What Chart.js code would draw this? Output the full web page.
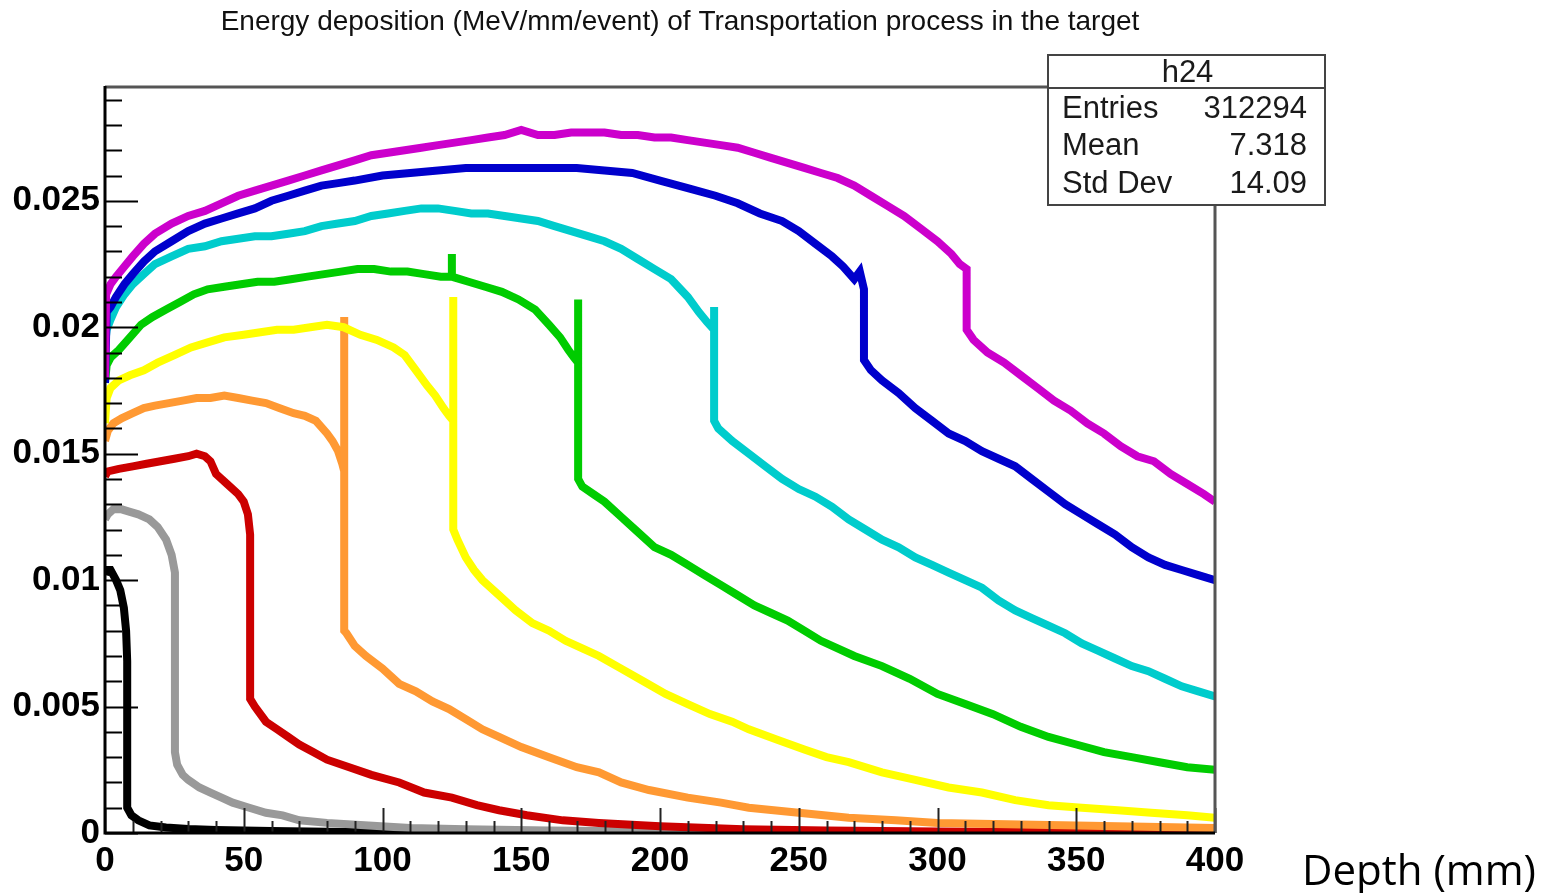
<!DOCTYPE html>
<html>
<head>
<meta charset="utf-8">
<title>Transportation energy deposition</title>
<script src="https://cdn.jsdelivr.net/npm/chart.js@4.4.1/dist/chart.umd.min.js"></script>
<style>
  html, body { margin: 0; padding: 0; background: #fff; }
  canvas { display: block; }
</style>
</head>
<body>
<canvas id="depthChart" width="1552" height="893"></canvas>
<script>
'use strict';

// axis ticks
var xTickValues = [0, 50, 100, 150, 200, 250, 300, 350, 400];
var xTickLabels = ['0', '50', '100', '150', '200', '250', '300', '350', '400'];
var yTickValues = [0, 0.005, 0.01, 0.015, 0.02, 0.025];
var yTickLabels = ['0', '0.005', '0.01', '0.015', '0.02', '0.025'];

// stats box of h24
var statNames = ['Entries', 'Mean', 'Std Dev'];
var statValues = ['312294', '7.318', '14.09'];

// energy deposition per depth, [depth mm, MeV/mm/event], one list per beam energy
var black = [[0, 0.0102], [0.5, 0.0104], [2, 0.0104], [4, 0.0100], [5.5, 0.0096], [6.8, 0.0089],
  [7.6, 0.0080], [8, 0.0068], [8, 0.0010], [9.5, 0.0007], [12, 0.0005], [16, 0.0003], [22, 0.00022],
  [30, 0.00016], [40, 0.00012], [60, 0.00008], [80, 0.00005], [100, 0.00004], [130, 0.00002],
  [180, 0.00001], [250, 0], [400, 0]];

var gray = [[0, 0.0124], [1, 0.0126], [3, 0.0128], [6, 0.0128], [9, 0.0127], [12, 0.0126],
  [16, 0.0124], [19, 0.0121], [22, 0.0116], [24, 0.0110], [25.2, 0.0103], [25.2, 0.0032],
  [26, 0.0027], [28, 0.0023], [30, 0.0021], [34, 0.0018], [38, 0.0016], [42, 0.0014], [46, 0.0012],
  [52, 0.0010], [58, 0.0008], [64, 0.0007], [70, 0.0005], [80, 0.0004], [95, 0.0003], [110, 0.0002],
  [130, 0.00015], [160, 0.0001], [200, 0.00006], [250, 0.00003], [300, 0.00002], [400, 0.00001]];

var red = [[0, 0.0141], [1, 0.0143], [5, 0.0144], [10, 0.0145], [15, 0.0146], [20, 0.0147],
  [25, 0.0148], [30, 0.0149], [33, 0.0150], [36, 0.0149], [38, 0.0147], [40, 0.0142], [44, 0.0138],
  [48, 0.0134], [50, 0.0131], [51.5, 0.0126], [52.3, 0.0118], [52.3, 0.0053], [54, 0.0050],
  [56, 0.0047], [58, 0.0044], [62, 0.0041], [66, 0.0038], [70, 0.0035], [75, 0.0032], [80, 0.0029],
  [88, 0.0026], [96, 0.0023], [106, 0.0020], [115, 0.0016], [125, 0.0014], [134, 0.0011],
  [142, 0.0009], [152, 0.0007], [165, 0.0005], [178, 0.0004], [200, 0.00027], [230, 0.00015],
  [260, 0.0001], [300, 0.00006], [350, 0.00003], [400, 0.00002]];

var orange = [[0, 0.0155], [1, 0.0159], [3, 0.0162], [6, 0.0164], [10, 0.0166], [14, 0.0168],
  [18, 0.0169], [23, 0.0170], [28, 0.0171], [33, 0.0172], [38, 0.0172], [43, 0.0173], [48, 0.0172],
  [53, 0.0171], [58, 0.0170], [63, 0.0168], [68, 0.0166], [72, 0.0165], [76, 0.0163], [80, 0.0158],
  [82, 0.0155], [84, 0.0151], [85.5, 0.0146], [86.2, 0.0143], [86.2, 0.0204], [86.2, 0.0080],
  [87, 0.0079], [90, 0.0074], [94, 0.0070], [100, 0.0065], [106, 0.0059], [112, 0.0056],
  [118, 0.0052], [124, 0.0049], [130, 0.0045], [136, 0.0041], [142, 0.0038], [150, 0.0034],
  [160, 0.0030], [170, 0.0026], [178, 0.0024], [186, 0.0020], [196, 0.0017], [210, 0.0014],
  [222, 0.0012], [232, 0.0010], [250, 0.0008], [268, 0.0006], [285, 0.0005], [300, 0.0004],
  [350, 0.0003], [400, 0.0002]];

var yellow = [[0, 0.0162], [0.6, 0.0172], [2, 0.0176], [5, 0.0179], [9, 0.0181], [14, 0.0183],
  [19, 0.0186], [25, 0.0189], [31, 0.0192], [37, 0.0194], [43, 0.0196], [50, 0.0197], [56, 0.0198],
  [62, 0.0199], [68, 0.0199], [74, 0.0200], [80, 0.0201], [86, 0.0200], [92, 0.0197], [98, 0.0195],
  [104, 0.0192], [108, 0.0189], [112, 0.0183], [116, 0.0177], [119, 0.0173], [122, 0.0168],
  [124, 0.0165], [125.5, 0.0163], [125.5, 0.0212], [125.5, 0.0120], [127, 0.0116], [130, 0.0109],
  [133, 0.0104], [136, 0.0100], [142, 0.0094], [148, 0.0088], [154, 0.0083], [160, 0.0080],
  [166, 0.0076], [172, 0.0073], [178, 0.0070], [186, 0.0065], [194, 0.0060], [202, 0.0055],
  [210, 0.0051], [218, 0.0047], [226, 0.0044], [232, 0.0041], [242, 0.0037], [252, 0.0033],
  [260, 0.0030], [268, 0.0028], [280, 0.0024], [292, 0.0021], [304, 0.0018], [316, 0.0016],
  [328, 0.0013], [340, 0.0011], [352, 0.0010], [365, 0.0009], [377, 0.0008], [390, 0.0007],
  [400, 0.0006]];

var green = [[0, 0.0178], [0.6, 0.0185], [2, 0.0188], [5, 0.0191], [9, 0.0196], [13, 0.0201],
  [17, 0.0204], [22, 0.0207], [27, 0.0210], [32, 0.0213], [37, 0.0215], [43, 0.0216], [49, 0.0217],
  [55, 0.0218], [61, 0.0218], [67, 0.0219], [73, 0.0220], [79, 0.0221], [85, 0.0222], [91, 0.0223],
  [97, 0.0223], [103, 0.0222], [109, 0.0222], [115, 0.0221], [121, 0.0220], [125, 0.0220],
  [125, 0.0229], [125, 0.0220], [131, 0.0218], [137, 0.0216], [143, 0.0214], [149, 0.0211],
  [155, 0.0207], [160, 0.0201], [164, 0.0196], [167, 0.0191], [169, 0.0188], [170.5, 0.0186],
  [170.5, 0.0211], [170.5, 0.0140], [172, 0.0137], [176, 0.0134], [180, 0.0131], [186, 0.0125],
  [192, 0.0119], [198, 0.0113], [204, 0.0110], [210, 0.0106], [216, 0.0102], [222, 0.0098],
  [228, 0.0094], [234, 0.0090], [240, 0.0087], [246, 0.0084], [252, 0.0080], [258, 0.0076],
  [264, 0.0073], [270, 0.0070], [280, 0.0066], [290, 0.0061], [300, 0.0055], [310, 0.0051],
  [320, 0.0047], [330, 0.0042], [340, 0.0038], [350, 0.0035], [360, 0.0032], [370, 0.0030],
  [380, 0.0028], [390, 0.0026], [400, 0.0025]];

var cyan = [[0, 0.0193], [0.6, 0.0199], [2, 0.0203], [4, 0.0208], [7, 0.0213], [10, 0.0217],
  [14, 0.0221], [18, 0.0225], [24, 0.0228], [30, 0.0231], [36, 0.0232], [42, 0.0234], [48, 0.0235],
  [54, 0.0236], [60, 0.0236], [66, 0.0237], [72, 0.0238], [78, 0.0240], [84, 0.0241], [90, 0.0242],
  [96, 0.0244], [102, 0.0245], [108, 0.0246], [114, 0.0247], [120, 0.0247], [126, 0.0246],
  [132, 0.0245], [138, 0.0245], [144, 0.0244], [150, 0.0243], [156, 0.0242], [162, 0.0240],
  [168, 0.0238], [174, 0.0236], [180, 0.0234], [186, 0.0231], [192, 0.0227], [198, 0.0223],
  [204, 0.0219], [210, 0.0212], [214, 0.0206], [217, 0.0202], [219.5, 0.0199], [219.5, 0.0208],
  [219.5, 0.0163], [221, 0.0160], [226, 0.0155], [232, 0.0150], [238, 0.0145], [244, 0.0140],
  [250, 0.0136], [256, 0.0133], [262, 0.0129], [268, 0.0124], [274, 0.0120], [280, 0.0116],
  [286, 0.0113], [292, 0.0109], [298, 0.0106], [304, 0.0103], [310, 0.0100], [316, 0.0097],
  [322, 0.0092], [328, 0.0088], [334, 0.0085], [340, 0.0082], [346, 0.0079], [352, 0.0075],
  [358, 0.0072], [364, 0.0069], [370, 0.0066], [376, 0.0064], [382, 0.0061], [388, 0.0058],
  [394, 0.0056], [400, 0.0054]];

var blue = [[0, 0.0178], [0.6, 0.0206], [2, 0.0208], [4, 0.0212], [7, 0.0217], [10, 0.0221],
  [14, 0.0226], [18, 0.0230], [24, 0.0234], [30, 0.0238], [36, 0.0241], [42, 0.0243], [48, 0.0245],
  [54, 0.0247], [60, 0.0250], [66, 0.0252], [72, 0.0254], [78, 0.0256], [84, 0.0257], [90, 0.0258],
  [100, 0.0260], [110, 0.0261], [120, 0.0262], [130, 0.0263], [140, 0.0263], [150, 0.0263],
  [160, 0.0263], [170, 0.0263], [180, 0.0262], [190, 0.0261], [200, 0.0258], [210, 0.0255],
  [220, 0.0252], [228, 0.0249], [236, 0.0245], [244, 0.0242], [250, 0.0238], [256, 0.0233],
  [262, 0.0228], [266, 0.0224], [270, 0.0219], [272, 0.0222], [273.5, 0.0215], [273.5, 0.0187],
  [276, 0.0183], [280, 0.0179], [286, 0.0174], [292, 0.0168], [298, 0.0163], [304, 0.0158],
  [310, 0.0155], [316, 0.0151], [322, 0.0148], [328, 0.0145], [334, 0.0140], [340, 0.0135],
  [346, 0.0130], [352, 0.0126], [358, 0.0122], [364, 0.0118], [370, 0.0113], [376, 0.0109],
  [382, 0.0106], [388, 0.0104], [394, 0.0102], [400, 0.0100]];

var magenta = [[0, 0.0180], [0.4, 0.0213], [2, 0.0217], [4, 0.0220], [7, 0.0224], [10, 0.0228],
  [14, 0.0233], [18, 0.0237], [24, 0.0241], [30, 0.0244], [36, 0.0246], [42, 0.0249], [48, 0.0252],
  [54, 0.0254], [60, 0.0256], [66, 0.0258], [72, 0.0260], [78, 0.0262], [84, 0.0264], [90, 0.0266],
  [96, 0.0268], [102, 0.0269], [108, 0.0270], [114, 0.0271], [120, 0.0272], [126, 0.0273],
  [132, 0.0274], [138, 0.0275], [144, 0.0276], [150, 0.0278], [156, 0.0276], [162, 0.0276],
  [168, 0.0277], [174, 0.0277], [180, 0.0277], [186, 0.0276], [192, 0.0276], [198, 0.0275],
  [204, 0.0275], [210, 0.0274], [216, 0.0273], [222, 0.0272], [228, 0.0271], [234, 0.0269],
  [240, 0.0267], [246, 0.0265], [252, 0.0263], [258, 0.0261], [264, 0.0259], [270, 0.0256],
  [276, 0.0252], [282, 0.0248], [288, 0.0244], [294, 0.0239], [300, 0.0234], [305, 0.0229],
  [308, 0.0225], [310.5, 0.0223], [310.5, 0.0199], [313, 0.0195], [318, 0.0190], [324, 0.0186],
  [330, 0.0181], [336, 0.0176], [342, 0.0171], [348, 0.0167], [354, 0.0162], [360, 0.0158],
  [366, 0.0153], [372, 0.0149], [378, 0.0147], [384, 0.0142], [390, 0.0138], [396, 0.0134],
  [400, 0.0131]];

// first dataset is painted last, so the highest energy sits on top
var curves = [
  { data: magenta, color: '#cc00cc' },
  { data: blue, color: '#0000cc' },
  { data: cyan, color: '#00cccc' },
  { data: green, color: '#00cc00' },
  { data: yellow, color: '#ffff00' },
  { data: orange, color: '#ff9933' },
  { data: red, color: '#cc0000' },
  { data: gray, color: '#999999' },
  { data: black, color: '#000000' }
];

var titleText = 'Energy deposition (MeV/mm/event) of Transportation process in the target';
var labelFont = "'Liberation Sans', Arial, sans-serif";

// ROOT style: inward ticks, frame, stats box, title
var rootFrame = {
  id: 'rootFrame',
  afterDatasetsDraw: function(chart) {
    var ctx = chart.ctx;
    var a = chart.chartArea;
    var x = chart.scales.x;
    var y = chart.scales.y;
    ctx.save();
    ctx.lineCap = 'butt';

    ctx.strokeStyle = '#000';
    ctx.lineWidth = 2;
    for (var i = 0; i <= 29; i++) {
      var py = Math.round(y.getPixelForValue(i / 1000)) + 0.5;
      var len = i % 5 === 0 ? 33 : 17;
      ctx.beginPath();
      ctx.moveTo(a.left, py);
      ctx.lineTo(a.left + len, py);
      ctx.stroke();
    }
    ctx.strokeStyle = '#222';
    for (var j = 0; j <= 40; j++) {
      var px = Math.round(x.getPixelForValue(j * 10)) + 0.5;
      var tl = j % 5 === 0 ? 25 : 12;
      ctx.beginPath();
      ctx.moveTo(px, a.bottom);
      ctx.lineTo(px, a.bottom - tl);
      ctx.stroke();
    }

    // top and right frame
    ctx.strokeStyle = '#555';
    ctx.lineWidth = 3;
    ctx.beginPath();
    ctx.moveTo(a.left, a.top);
    ctx.lineTo(a.right, a.top);
    ctx.lineTo(a.right, a.bottom);
    ctx.stroke();

    // axis lines
    ctx.strokeStyle = '#000';
    ctx.beginPath();
    ctx.moveTo(a.left, a.top - 1);
    ctx.lineTo(a.left, a.bottom);
    ctx.lineTo(a.right, a.bottom);
    ctx.stroke();
    ctx.restore();
  },
  afterDraw: function(chart) {
    var ctx = chart.ctx;
    ctx.save();

    ctx.fillStyle = '#111';
    ctx.font = '28px ' + labelFont;
    ctx.textAlign = 'center';
    ctx.textBaseline = 'middle';
    ctx.fillText(titleText, 680, 22, 930);

    // stats box
    var bx = 1048, by = 55, bw = 277, bh = 150, head = 33;
    ctx.fillStyle = '#fff';
    ctx.fillRect(bx, by, bw, bh);
    ctx.strokeStyle = '#444';
    ctx.lineWidth = 2;
    ctx.strokeRect(bx, by, bw, bh);
    ctx.beginPath();
    ctx.moveTo(bx, by + head);
    ctx.lineTo(bx + bw, by + head);
    ctx.stroke();

    ctx.fillStyle = '#1a1a1a';
    ctx.font = '31px ' + labelFont;
    ctx.textBaseline = 'middle';
    ctx.textAlign = 'center';
    ctx.fillText('h24', bx + bw / 2 + 1, by + 18);
    for (var k = 0; k < statNames.length; k++) {
      var ty = by + head + 21 + k * 37.5;
      ctx.textAlign = 'left';
      ctx.fillText(statNames[k], bx + 14, ty);
      ctx.textAlign = 'right';
      ctx.fillText(statValues[k], bx + bw - 18, ty);
    }

    // axis name next to the end of the depth axis
    ctx.fillStyle = '#000';
    ctx.font = "42px 'Open Sans', 'Noto Sans', sans-serif";
    ctx.textAlign = 'left';
    ctx.textBaseline = 'alphabetic';
    ctx.fillText('Depth (mm)', 1302, 885);
    ctx.restore();
  }
};

var chart = new Chart(document.getElementById('depthChart'), {
  type: 'line',
  data: {
    datasets: curves.map(function(c) {
      return {
        data: c.data,
        borderColor: c.color,
        backgroundColor: c.color,
        borderWidth: 8,
        pointRadius: 0,
        tension: 0,
        fill: false
      };
    })
  },
  options: {
    responsive: false,
    animation: false,
    layout: { padding: { top: 87, right: 337, left: 0, bottom: 0 } },
    plugins: {
      legend: { display: false },
      title: { display: false },
      tooltip: { enabled: false }
    },
    scales: {
      x: {
        type: 'linear',
        min: 0,
        max: 400,
        afterFit: function(s) { s.height = 60; },
        afterBuildTicks: function(s) {
          s.ticks = xTickValues.map(function(v) { return { value: v }; });
        },
        grid: { display: false, drawTicks: false },
        border: { display: false },
        ticks: {
          autoSkip: false,
          maxRotation: 0,
          padding: 7,
          color: '#000',
          font: { family: labelFont, size: 35, weight: 'bold' },
          callback: function(v, i) { return xTickLabels[i]; }
        }
      },
      y: {
        type: 'linear',
        min: 0,
        max: 0.0295,
        afterFit: function(s) { s.width = 105; },
        afterBuildTicks: function(s) {
          s.ticks = yTickValues.map(function(v) { return { value: v }; });
        },
        grid: { display: false, drawTicks: false },
        border: { display: false },
        ticks: {
          padding: 5,
          color: '#000',
          font: { family: labelFont, size: 35, weight: 'bold' },
          callback: function(v, i) { return yTickLabels[i]; }
        }
      }
    }
  },
  plugins: [rootFrame]
});
</script>
</body>
</html>
